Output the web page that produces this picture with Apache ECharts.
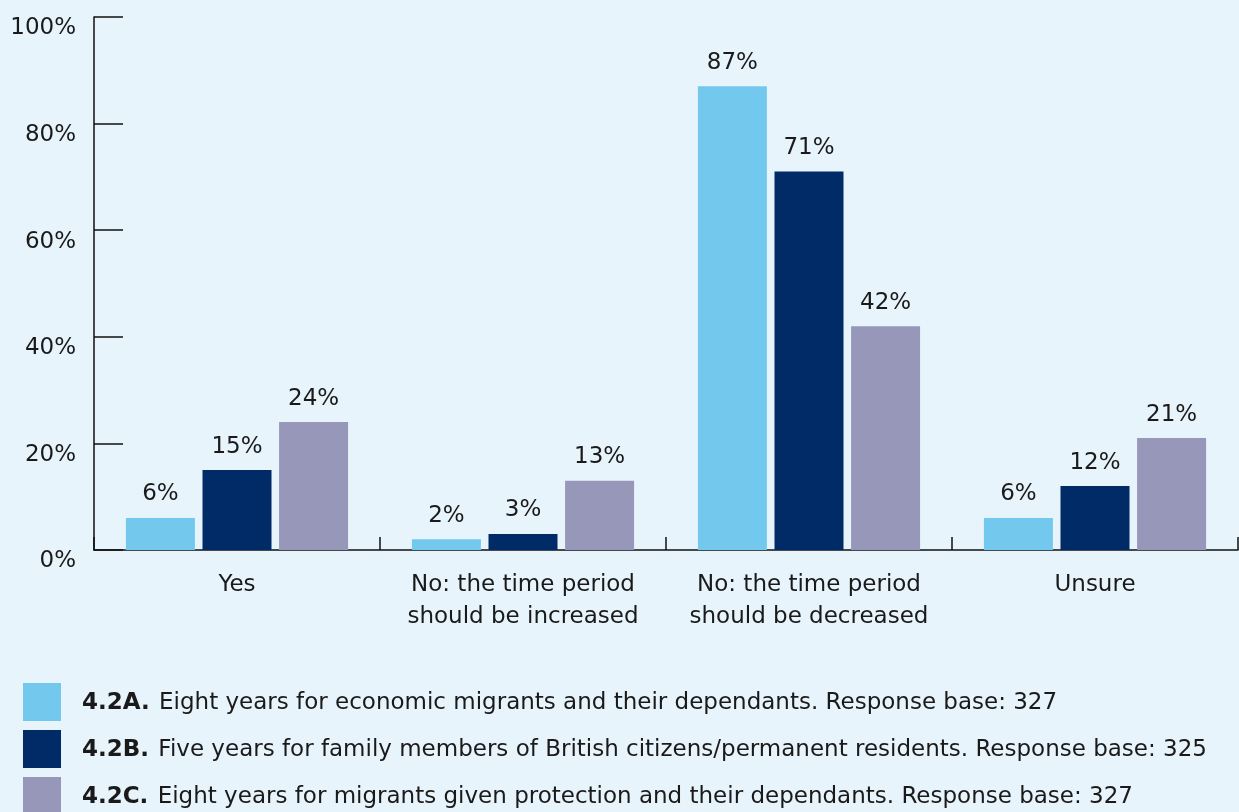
<!DOCTYPE html>
<html>
<head>
<meta charset="utf-8">
<script src="https://cdn.jsdelivr.net/npm/echarts@6/dist/echarts.min.js"></script>
<style>
  html, body { margin: 0; padding: 0; background: #e8f4fc; }
  #chart { width: 1239px; height: 812px; }
</style>
</head>
<body>
<div id="chart"></div>
<script>
// Answer categories along the x axis
const categories = [
  'Yes',
  'No: the time period\nshould be increased',
  'No: the time period\nshould be decreased',
  'Unsure'
];

// Percentage of responses per proposal
const seriesA = [6, 2, 87, 6];
const seriesB = [15, 3, 71, 12];
const seriesC = [24, 13, 42, 21];

// Legend entries: code (bold) and description
const seriesCodes = ['4.2A.', '4.2B.', '4.2C.'];
const seriesNames = [
  'Eight years for economic migrants and their dependants. Response base: 327',
  'Five years for family members of British citizens/permanent residents. Response base: 325',
  'Eight years for migrants given protection and their dependants. Response base: 327'
];

const colors = ['#72c9ed', '#002b66', '#9797b9'];
const font = 'DejaVu Sans, Liberation Sans, sans-serif';
const fontSize = 23;
const textColor = '#1a1a1a';

const chart = echarts.init(document.getElementById('chart'));

const dataSets = [seriesA, seriesB, seriesC];
const series = dataSets.map((d, i) => ({
  name: seriesCodes[i] + ' ' + seriesNames[i],
  type: 'bar',
  data: d,
  barWidth: 69,
  barGap: '11%',
  itemStyle: { color: colors[i] },
  label: {
    show: true,
    position: 'top',
    distance: 12,
    formatter: '{c}%',
    fontFamily: font,
    fontSize: fontSize,
    color: textColor
  }
}));

chart.setOption({
  backgroundColor: '#e8f4fc',
  animation: false,
  color: colors,
  grid: { left: 94, right: 1, top: 17, bottom: 262, containLabel: false },
  legend: {
    orient: 'vertical',
    left: 23,
    top: 683,
    height: 200,
    padding: 0,
    itemWidth: 38,
    itemHeight: 38,
    itemGap: 9,
    icon: 'rect',
    selectedMode: false,
    formatter: function (name) {
      const idx = name.indexOf(' ');
      return '{b|' + name.slice(0, idx) + '} {n|' + name.slice(idx + 1) + '}';
    },
    textStyle: {
      padding: [3, 0, 0, 16],
      rich: {
        b: { fontFamily: font, fontSize: fontSize, fontWeight: 'bold', color: textColor, padding: [0, 6, 0, 0] },
        n: { fontFamily: font, fontSize: fontSize, color: textColor }
      }
    }
  },
  xAxis: {
    type: 'category',
    data: categories,
    axisLine: { show: true, lineStyle: { color: '#111', width: 1.5 } },
    axisTick: { show: true, inside: true, length: 13, lineStyle: { color: '#111', width: 1.5 } },
    axisLabel: {
      fontFamily: font,
      fontSize: fontSize,
      color: textColor,
      margin: 19,
      lineHeight: 32,
      interval: 0
    }
  },
  yAxis: {
    type: 'value',
    min: 0,
    max: 100,
    interval: 20,
    axisLine: { show: true, lineStyle: { color: '#111', width: 1.5 } },
    axisTick: { show: true, inside: true, length: 29, lineStyle: { color: '#111', width: 1.5 } },
    splitLine: { show: false },
    axisLabel: {
      formatter: '{value}%',
      fontFamily: font,
      fontSize: fontSize,
      color: textColor,
      margin: 18,
      verticalAlign: 'top'
    }
  },
  series: series
});
</script>
</body>
</html>
